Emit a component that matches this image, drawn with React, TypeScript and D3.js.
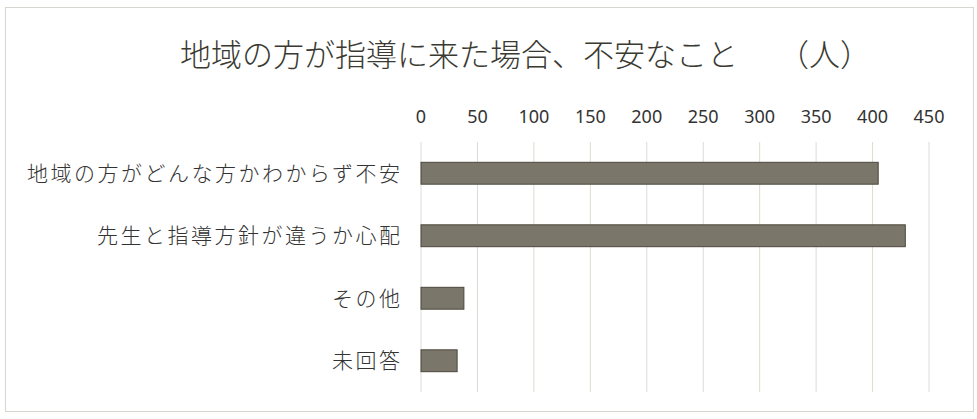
import React, { useRef, useEffect } from "react";
import * as d3 from "d3";

const categories = [
  "地域の方がどんな方かわからず不安",
  "先生と指導方針が違うか心配",
  "その他",
  "未回答",
];
const counts = [405, 429, 38, 32];
const tickValues = [0, 50, 100, 150, 200, 250, 300, 350, 400, 450];
const title = "地域の方が指導に来た場合、不安なこと";
const unitLabel = "（人）";

const W = 977;
const H = 419;
const FONT = "'Noto Sans CJK JP', 'Noto Sans', sans-serif";

export default function App() {
  const ref = useRef<SVGSVGElement | null>(null);

  useEffect(() => {
    const svg = d3.select(ref.current);
    svg.selectAll("*").remove();
    svg.attr("width", W).attr("height", H);

    const x = d3.scaleLinear().domain([0, 450]).range([421, 929]);
    const y = d3
      .scaleBand<string>()
      .domain(categories)
      .range([142, 392])
      .paddingInner(0.65)
      .paddingOuter(0.325);

    // outer frame
    svg
      .append("rect")
      .attr("x", 5.5)
      .attr("y", 7.5)
      .attr("width", 968)
      .attr("height", 404)
      .attr("fill", "#fff")
      .attr("stroke", "#d6d6d0")
      .attr("stroke-width", 1);

    // title
    const t = svg
      .append("text")
      .attr("y", 66)
      .attr("fill", "#3a3a32")
      .style("font-family", FONT)
      .style("font-weight", 300)
      .style("font-size", "31px");
    t.append("tspan").attr("x", 180).text(title);
    t.append("tspan").attr("x", 778).text(unitLabel);

    // gridlines
    svg
      .append("g")
      .selectAll("line")
      .data(tickValues)
      .enter()
      .append("line")
      .attr("x1", (d) => x(d))
      .attr("x2", (d) => x(d))
      .attr("y1", 142)
      .attr("y2", 392)
      .attr("stroke", "#dcdcd4")
      .attr("stroke-width", 1);

    // tick labels on top
    svg
      .append("g")
      .selectAll("text")
      .data(tickValues)
      .enter()
      .append("text")
      .attr("x", (d) => x(d))
      .attr("y", 123)
      .attr("text-anchor", "middle")
      .attr("fill", "#333")
      .style("font-family", "'Noto Sans', sans-serif")
      .style("font-size", "18px")
      .text((d) => String(d));

    // bars
    svg
      .append("g")
      .selectAll("rect")
      .data(counts)
      .enter()
      .append("rect")
      .attr("x", x(0))
      .attr("y", (_, i) => y(categories[i]) as number)
      .attr("width", (d) => x(d) - x(0))
      .attr("height", y.bandwidth())
      .attr("fill", "#7a766a")
      .attr("stroke", "#4a473c")
      .attr("stroke-width", 1);

    // category labels
    svg
      .append("g")
      .selectAll("text")
      .data(categories)
      .enter()
      .append("text")
      .attr("x", 400)
      .attr("dx", 2.5)
      .attr("y", (d) => (y(d) as number) + y.bandwidth() / 2)
      .attr("dy", "0.36em")
      .attr("text-anchor", "end")
      .attr("fill", "#333")
      .style("font-family", FONT)
      .style("font-weight", 300)
      .style("font-size", "21px")
      .style("letter-spacing", "2.5px")
      .text((d) => d);
  }, []);

  return (
    <svg
      ref={ref}
      style={{ position: "absolute", left: 0, top: 0, background: "#fff" }}
    />
  );
}
